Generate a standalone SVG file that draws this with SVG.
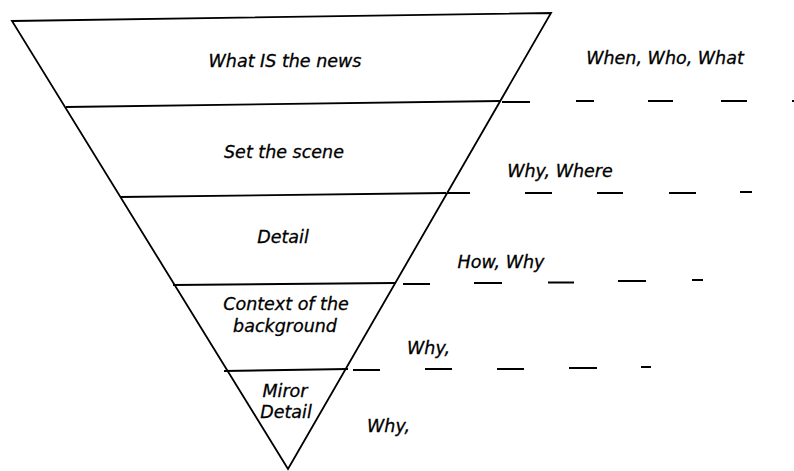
<svg xmlns="http://www.w3.org/2000/svg" width="794" height="471" viewBox="0 0 794 471">
<style>
.ln{stroke:#000;stroke-width:1.8;fill:none;stroke-linecap:butt}
.ds{stroke:#000;stroke-width:2;fill:none}
text{font-family:"DejaVu Sans","Liberation Sans",sans-serif;font-style:italic;font-size:17.5px;fill:#000;stroke:#000;stroke-width:0.3}
.m{text-anchor:middle}
</style>
<rect width="794" height="471" fill="#fff"/>
<g id="pyramid">
<polygon class="ln" points="12,21 551,13 288,469" stroke-linejoin="miter"/>
</g>
<g id="layer1">
<text class="m" x="285" y="67">What IS the news</text>
</g>
<g id="layer2">
<line class="ln" x1="66" y1="107" x2="500" y2="101"/>
<text class="m" x="284" y="158">Set the scene</text>
</g>
<g id="layer3">
<line class="ln" x1="120" y1="197" x2="446" y2="193"/>
<text class="m" x="283" y="243">Detail</text>
</g>
<g id="layer4">
<line class="ln" x1="173" y1="285" x2="395" y2="283"/>
<text class="m" x="286" y="310">Context of the</text>
<text class="m" x="285" y="332">background</text>
</g>
<g id="layer5">
<line class="ln" x1="224" y1="371" x2="348" y2="369"/>
<text class="m" x="285" y="397">Miror</text>
<text class="m" x="286" y="418">Detail</text>
</g>
<g id="labels">
<text class="m" x="665" y="64">When, Who, What</text>
<text class="m" x="560" y="177">Why, Where</text>
<text class="m" x="501" y="268">How, Why</text>
<text x="407" y="354">Why,</text>
<text x="367" y="432">Why,</text>
</g>
<g id="connectors">
<path class="ds" d="M502,102H530M576,101H594M648,101H673M721,101H747M792,101H794"/>
<path class="ds" d="M447,193H470M525,193H552M597,193H623M669,193H696M740,192H752"/>
<path class="ds" d="M403,284H430M474,283H502M548,282.5H574M618,281H646M692,280H703"/>
<path class="ds" d="M353,370H380M425,369H452M497,369H524M569,368H597M641,367H651"/>
</g>
</svg>
